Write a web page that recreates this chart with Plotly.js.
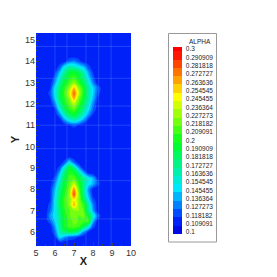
<!DOCTYPE html>
<html><head><meta charset="utf-8">
<script src="https://cdn.plot.ly/plotly-3.0.1.min.js"></script>
<style>html,body{margin:0;padding:0;background:#fff}#c{width:277px;height:277px}</style></head>
<body><div id="c"></div><script>
const xs=[5,5.5,5.75,6,6.25,6.5,6.75,7,7.25,7.5,7.75,8,8.25,8.5,9,10];
const ys=[5.33,5.5,5.75,6,6.25,6.5,6.75,7,7.25,7.5,7.75,8,8.25,8.5,8.75,9,9.25,9.5,10,10.75,11,11.25,11.5,11.75,12,12.25,12.5,12.75,13,13.5,13.75,14,14.25,15.33];
const B=.11;
const alpha=[
[B,B,B,B,B,B,B,B,B,B,B,B,B,B,B,B],
[B,B,B,B,.115,B,B,B,B,B,B,B,B,B,B,B],
[B,B,B,.115,.15,.135,.125,.12,.115,B,B,B,B,B,B,B],
[B,B,B,.125,.165,.185,.19,.19,.17,.135,.115,B,B,B,B,B],
[B,B,B,.135,.17,.2,.21,.215,.21,.19,.16,.12,B,B,B,B],
[B,B,.125,.145,.175,.2,.21,.22,.215,.21,.215,.14,B,B,B,B],
[B,.11,.135,.15,.175,.2,.215,.22,.215,.22,.195,.16,.125,B,B,B],
[B,B,.125,.15,.18,.205,.215,.225,.225,.215,.175,.135,B,B,B,B],
[B,B,.12,.15,.185,.21,.22,.265,.225,.21,.17,.13,B,B,B,B],
[B,B,.115,.15,.185,.21,.225,.25,.225,.19,.15,.12,B,B,B,B],
[B,B,.115,.145,.18,.205,.225,.285,.225,.175,.14,.112,B,B,B,B],
[B,B,.115,.14,.175,.2,.22,.27,.215,.175,.135,.112,B,B,B,B],
[B,B,B,.13,.165,.195,.215,.235,.205,.175,.15,.14,.12,B,B,B],
[B,B,B,.12,.155,.19,.21,.215,.195,.175,.155,.14,.115,B,B,B],
[B,B,B,B,.14,.18,.205,.2,.175,.14,.115,B,B,B,B,B],
[B,B,B,B,.12,.16,.195,.175,.135,B,B,B,B,B,B,B],
[B,B,B,B,B,.12,.15,.125,B,B,B,B,B,B,B,B],
[B,B,B,B,B,B,.115,B,B,B,B,B,B,B,B,B],
[B,B,B,B,B,B,B,B,B,B,B,B,B,B,B,B],
[B,B,B,B,B,B,B,B,B,B,B,B,B,B,B,B],
[B,B,B,B,B,B,.115,.12,.115,B,B,B,B,B,B,B],
[B,B,B,B,B,.135,.155,.165,.155,.135,.115,B,B,B,B,B],
[B,B,B,B,.13,.165,.185,.195,.18,.16,.135,.115,B,B,B,B],
[B,B,B,.115,.155,.185,.205,.215,.195,.175,.15,.125,B,B,B,B],
[B,B,B,.13,.17,.2,.215,.235,.21,.185,.16,.13,B,B,B,B],
[B,B,.115,.145,.185,.205,.225,.265,.22,.195,.17,.14,.115,B,B,B],
[B,B,.12,.15,.185,.21,.235,.28,.235,.2,.17,.145,.12,B,B,B],
[B,B,.115,.15,.18,.205,.225,.26,.225,.2,.17,.145,.125,B,B,B],
[B,B,B,.135,.17,.195,.21,.225,.205,.185,.16,.13,B,B,B,B],
[B,B,B,.115,.14,.17,.19,.195,.185,.165,.135,.115,B,B,B,B],
[B,B,B,B,.12,.15,.165,.16,.15,.14,.12,B,B,B,B,B],
[B,B,B,B,B,B,.125,.13,.12,B,B,B,B,B,B,B],
[B,B,B,B,B,B,B,B,B,B,B,B,B,B,B,B],
[B,B,B,B,B,B,B,B,B,B,B,B,B,B,B,B]];
const legendTicks=[0.1,0.109091,0.118182,0.127273,0.136364,0.145455,0.154545,0.163636,0.172727,0.181818,0.190909,0.2,0.209091,0.218182,0.227273,0.236364,0.245455,0.254545,0.263636,0.272727,0.281818,0.290909,0.3];
const meshX=[6,6.63,7.63,8.3,8.95];
const meshY=[14.7,13.2,11.9,11,9.9,8.4,6.6];
const scale=[[0,'#0000d8'],[0.08,'#0028ff'],[0.25,'#00e8ff'],[0.5,'#00ff20'],[0.75,'#ffff00'],[1,'#ff0000']];
const mx=[],my=[];
meshX.forEach(v=>{mx.push(v,v,null);my.push(5.33,15.33,null)});
meshY.forEach(v=>{mx.push(5,10,null);my.push(v,v,null)});
const f='"Liberation Sans",Arial,sans-serif';
const px=v=>(v-36)/95, py=v=>(246-v)/213;
Plotly.newPlot('c',[
{type:'contour',x:xs,y:ys,z:alpha,zmin:0.0977,zmax:0.3023,autocontour:false,
 contours:{start:0.0977,end:0.3023,size:0.00909091,coloring:'fill',showlines:false},
 line:{width:0},colorscale:scale,
 colorbar:{x:px(173),xanchor:'left',xpad:0,thickness:9,thicknessmode:'pixels',
  len:189,lenmode:'pixels',y:py(46),yanchor:'top',ypad:1,
  bgcolor:'rgba(0,0,0,0)',borderwidth:0,outlinewidth:0,
  tickmode:'array',tickvals:legendTicks,ticktext:legendTicks.map(String),ticks:'outside',ticklen:3,tickcolor:'rgba(0,0,0,0)',
  tickfont:{family:f,size:6.5,color:'#222'}}},
{type:'scatter',mode:'lines',x:mx,y:my,showlegend:false,hoverinfo:'skip',line:{color:'rgba(120,170,255,0.25)',width:1}}
],{
 width:277,height:277,margin:{l:36,r:146,t:33,b:31},paper_bgcolor:'#fff',plot_bgcolor:'#0028ff',showlegend:false,
 font:{family:f,size:9,color:'#333'},
 shapes:[{type:'rect',xref:'paper',yref:'paper',x0:px(168.5),x1:px(216.5),y0:py(242),y1:py(33.5),line:{color:'#999',width:1},fillcolor:'#fff',layer:'below'}],
 annotations:[{xref:'paper',yref:'paper',x:px(199.5),y:py(41),text:'ALPHA',showarrow:false,xanchor:'center',yanchor:'middle',font:{family:f,size:6.5,color:'#222'}}],
 xaxis:{range:[5,10],tickvals:[5,6,7,8,9,10],showgrid:false,zeroline:false,ticks:'inside',ticklen:3,tickcolor:'#444',
  tickfont:{size:9,color:'#333'},minor:{dtick:0.5,ticks:'inside',ticklen:2,tickcolor:'#444'},
  title:{text:'<b>X</b>',font:{size:11,color:'#222'},standoff:0},automargin:false},
 yaxis:{range:[5.33,15.33],tickvals:[6,7,8,9,10,11,12,13,14,15],showgrid:false,zeroline:false,ticks:'inside',ticklen:3,tickcolor:'#444',
  tickfont:{size:9,color:'#333'},minor:{dtick:0.25,ticks:'inside',ticklen:2,tickcolor:'#444'},
  title:{text:'<b>Y</b>',font:{size:11,color:'#222'},standoff:3},automargin:false}
},{displayModeBar:false,staticPlot:true});
</script></body></html>
